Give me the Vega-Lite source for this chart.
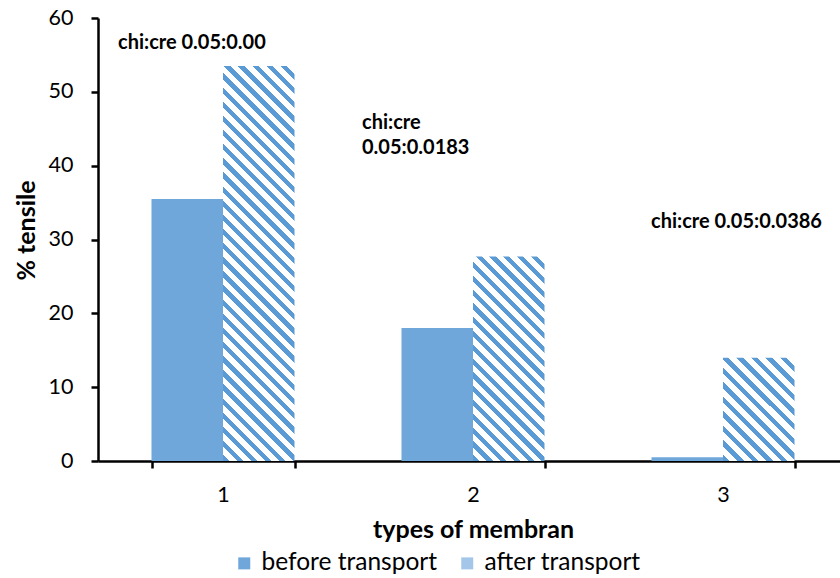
{
  "$schema": "https://vega.github.io/schema/vega-lite/v6.json",
  "autosize": {"type": "none"},
  "padding": {"left": 98, "top": 18, "right": 0, "bottom": 117},
  "width": 742,
  "height": 443,
  "background": "#ffffff",
  "datasets": {
    "bars": [
      {"cat": "1", "series": "before transport", "value": 35.5},
      {"cat": "1", "series": "after transport", "value": 53.5},
      {"cat": "2", "series": "before transport", "value": 18},
      {"cat": "2", "series": "after transport", "value": 27.7},
      {"cat": "3", "series": "before transport", "value": 0.5},
      {"cat": "3", "series": "after transport", "value": 14}
    ],
    "notes": [
      {"cat": "1", "value": 56.66, "label": "chi:cre 0.05:0.00"},
      {"cat": "2", "value": 45.8, "label": "chi:cre\n0.05:0.0183"},
      {"cat": "3", "value": 32.4, "label": "chi:cre 0.05:0.0386"}
    ]
  },
  "encoding": {
    "x": {
      "field": "cat",
      "type": "nominal",
      "title": "types of membran",
      "scale": {"range": [0, 750], "paddingInner": 0.428, "paddingOuter": 0.214},
      "axis": {
        "labelAngle": 0,
        "tickBand": "extent",
        "tickSize": 7,
        "labelPadding": 16,
        "titlePadding": 12
      }
    },
    "y": {
      "field": "value",
      "type": "quantitative",
      "title": "% tensile",
      "scale": {"domain": [0, 60], "nice": false},
      "axis": {
        "values": [0, 10, 20, 30, 40, 50, 60],
        "tickSize": 7,
        "labelPadding": 18,
        "titlePadding": 9,
        "titleY": 212
      }
    }
  },
  "layer": [
    {
      "data": {"name": "bars"},
      "transform": [{"filter": "datum.series == 'before transport'"}],
      "mark": {"type": "bar"},
      "encoding": {
        "xOffset": {"field": "series", "type": "nominal", "scale": {"domain": ["before transport", "after transport"], "paddingInner": 0, "paddingOuter": 0}},
        "fill": {
          "field": "series",
          "type": "nominal",
          "scale": {
            "domain": ["before transport", "after transport"],
            "range": ["#6fa7da", "#a4c7e9"]
          },
          "legend": {
            "title": null,
            "orient": "none",
            "legendX": 134,
            "legendY": 533,
            "direction": "horizontal",
            "symbolType": "square",
            "symbolSize": 144,
            "symbolStrokeWidth": 0,
            "labelFont": "Lato",
            "labelFontSize": 24.5,
            "labelColor": "#000000",
            "labelLimit": 0,
            "columnPadding": 17,
            "labelOffset": 5
          }
        }
      }
    },
    {
      "data": {"name": "bars"},
      "transform": [{"filter": "datum.series == 'after transport' && datum.cat == '1'"}],
      "mark": {
        "type": "bar",
        "fill": {"gradient": "linear", "x1": 0, "y1": 1, "x2": 0.207, "y2": -0.1435, "stops": [
          {"offset": 0, "color": "#5b9bd5"}, {"offset": 0.0136, "color": "#5b9bd5"}, {"offset": 0.0136, "color": "#ffffff"}, {"offset": 0.0303, "color": "#ffffff"},
          {"offset": 0.0303, "color": "#5b9bd5"}, {"offset": 0.0439, "color": "#5b9bd5"}, {"offset": 0.0439, "color": "#ffffff"}, {"offset": 0.0606, "color": "#ffffff"},
          {"offset": 0.0606, "color": "#5b9bd5"}, {"offset": 0.0742, "color": "#5b9bd5"}, {"offset": 0.0742, "color": "#ffffff"}, {"offset": 0.0909, "color": "#ffffff"},
          {"offset": 0.0909, "color": "#5b9bd5"}, {"offset": 0.1045, "color": "#5b9bd5"}, {"offset": 0.1045, "color": "#ffffff"}, {"offset": 0.1212, "color": "#ffffff"},
          {"offset": 0.1212, "color": "#5b9bd5"}, {"offset": 0.1348, "color": "#5b9bd5"}, {"offset": 0.1348, "color": "#ffffff"}, {"offset": 0.1515, "color": "#ffffff"},
          {"offset": 0.1515, "color": "#5b9bd5"}, {"offset": 0.1652, "color": "#5b9bd5"}, {"offset": 0.1652, "color": "#ffffff"}, {"offset": 0.1818, "color": "#ffffff"},
          {"offset": 0.1818, "color": "#5b9bd5"}, {"offset": 0.1955, "color": "#5b9bd5"}, {"offset": 0.1955, "color": "#ffffff"}, {"offset": 0.2121, "color": "#ffffff"},
          {"offset": 0.2121, "color": "#5b9bd5"}, {"offset": 0.2258, "color": "#5b9bd5"}, {"offset": 0.2258, "color": "#ffffff"}, {"offset": 0.2424, "color": "#ffffff"},
          {"offset": 0.2424, "color": "#5b9bd5"}, {"offset": 0.2561, "color": "#5b9bd5"}, {"offset": 0.2561, "color": "#ffffff"}, {"offset": 0.2727, "color": "#ffffff"},
          {"offset": 0.2727, "color": "#5b9bd5"}, {"offset": 0.2864, "color": "#5b9bd5"}, {"offset": 0.2864, "color": "#ffffff"}, {"offset": 0.303, "color": "#ffffff"},
          {"offset": 0.303, "color": "#5b9bd5"}, {"offset": 0.3167, "color": "#5b9bd5"}, {"offset": 0.3167, "color": "#ffffff"}, {"offset": 0.3333, "color": "#ffffff"},
          {"offset": 0.3333, "color": "#5b9bd5"}, {"offset": 0.347, "color": "#5b9bd5"}, {"offset": 0.347, "color": "#ffffff"}, {"offset": 0.3636, "color": "#ffffff"},
          {"offset": 0.3636, "color": "#5b9bd5"}, {"offset": 0.3773, "color": "#5b9bd5"}, {"offset": 0.3773, "color": "#ffffff"}, {"offset": 0.3939, "color": "#ffffff"},
          {"offset": 0.3939, "color": "#5b9bd5"}, {"offset": 0.4076, "color": "#5b9bd5"}, {"offset": 0.4076, "color": "#ffffff"}, {"offset": 0.4242, "color": "#ffffff"},
          {"offset": 0.4242, "color": "#5b9bd5"}, {"offset": 0.4379, "color": "#5b9bd5"}, {"offset": 0.4379, "color": "#ffffff"}, {"offset": 0.4545, "color": "#ffffff"},
          {"offset": 0.4545, "color": "#5b9bd5"}, {"offset": 0.4682, "color": "#5b9bd5"}, {"offset": 0.4682, "color": "#ffffff"}, {"offset": 0.4848, "color": "#ffffff"},
          {"offset": 0.4848, "color": "#5b9bd5"}, {"offset": 0.4985, "color": "#5b9bd5"}, {"offset": 0.4985, "color": "#ffffff"}, {"offset": 0.5152, "color": "#ffffff"},
          {"offset": 0.5152, "color": "#5b9bd5"}, {"offset": 0.5288, "color": "#5b9bd5"}, {"offset": 0.5288, "color": "#ffffff"}, {"offset": 0.5455, "color": "#ffffff"},
          {"offset": 0.5455, "color": "#5b9bd5"}, {"offset": 0.5591, "color": "#5b9bd5"}, {"offset": 0.5591, "color": "#ffffff"}, {"offset": 0.5758, "color": "#ffffff"},
          {"offset": 0.5758, "color": "#5b9bd5"}, {"offset": 0.5894, "color": "#5b9bd5"}, {"offset": 0.5894, "color": "#ffffff"}, {"offset": 0.6061, "color": "#ffffff"},
          {"offset": 0.6061, "color": "#5b9bd5"}, {"offset": 0.6197, "color": "#5b9bd5"}, {"offset": 0.6197, "color": "#ffffff"}, {"offset": 0.6364, "color": "#ffffff"},
          {"offset": 0.6364, "color": "#5b9bd5"}, {"offset": 0.65, "color": "#5b9bd5"}, {"offset": 0.65, "color": "#ffffff"}, {"offset": 0.6667, "color": "#ffffff"},
          {"offset": 0.6667, "color": "#5b9bd5"}, {"offset": 0.6803, "color": "#5b9bd5"}, {"offset": 0.6803, "color": "#ffffff"}, {"offset": 0.697, "color": "#ffffff"},
          {"offset": 0.697, "color": "#5b9bd5"}, {"offset": 0.7106, "color": "#5b9bd5"}, {"offset": 0.7106, "color": "#ffffff"}, {"offset": 0.7273, "color": "#ffffff"},
          {"offset": 0.7273, "color": "#5b9bd5"}, {"offset": 0.7409, "color": "#5b9bd5"}, {"offset": 0.7409, "color": "#ffffff"}, {"offset": 0.7576, "color": "#ffffff"},
          {"offset": 0.7576, "color": "#5b9bd5"}, {"offset": 0.7712, "color": "#5b9bd5"}, {"offset": 0.7712, "color": "#ffffff"}, {"offset": 0.7879, "color": "#ffffff"},
          {"offset": 0.7879, "color": "#5b9bd5"}, {"offset": 0.8015, "color": "#5b9bd5"}, {"offset": 0.8015, "color": "#ffffff"}, {"offset": 0.8182, "color": "#ffffff"},
          {"offset": 0.8182, "color": "#5b9bd5"}, {"offset": 0.8318, "color": "#5b9bd5"}, {"offset": 0.8318, "color": "#ffffff"}, {"offset": 0.8485, "color": "#ffffff"},
          {"offset": 0.8485, "color": "#5b9bd5"}, {"offset": 0.8621, "color": "#5b9bd5"}, {"offset": 0.8621, "color": "#ffffff"}, {"offset": 0.8788, "color": "#ffffff"},
          {"offset": 0.8788, "color": "#5b9bd5"}, {"offset": 0.8924, "color": "#5b9bd5"}, {"offset": 0.8924, "color": "#ffffff"}, {"offset": 0.9091, "color": "#ffffff"},
          {"offset": 0.9091, "color": "#5b9bd5"}, {"offset": 0.9227, "color": "#5b9bd5"}, {"offset": 0.9227, "color": "#ffffff"}, {"offset": 0.9394, "color": "#ffffff"},
          {"offset": 0.9394, "color": "#5b9bd5"}, {"offset": 0.953, "color": "#5b9bd5"}, {"offset": 0.953, "color": "#ffffff"}, {"offset": 0.9697, "color": "#ffffff"},
          {"offset": 0.9697, "color": "#5b9bd5"}, {"offset": 0.9833, "color": "#5b9bd5"}, {"offset": 0.9833, "color": "#ffffff"}, {"offset": 1, "color": "#ffffff"}
        ]}
      },
      "encoding": {
        "xOffset": {"field": "series", "type": "nominal", "scale": {"domain": ["before transport", "after transport"], "paddingInner": 0, "paddingOuter": 0}}
      }
    },
    {
      "data": {"name": "bars"},
      "transform": [{"filter": "datum.series == 'after transport' && datum.cat == '2'"}],
      "mark": {
        "type": "bar",
        "fill": {"gradient": "linear", "x1": 0, "y1": 1, "x2": 0.4205, "y2": -0.2026, "stops": [
          {"offset": 0, "color": "#5b9bd5"}, {"offset": 0.0225, "color": "#5b9bd5"}, {"offset": 0.0225, "color": "#ffffff"}, {"offset": 0.05, "color": "#ffffff"},
          {"offset": 0.05, "color": "#5b9bd5"}, {"offset": 0.0725, "color": "#5b9bd5"}, {"offset": 0.0725, "color": "#ffffff"}, {"offset": 0.1, "color": "#ffffff"},
          {"offset": 0.1, "color": "#5b9bd5"}, {"offset": 0.1225, "color": "#5b9bd5"}, {"offset": 0.1225, "color": "#ffffff"}, {"offset": 0.15, "color": "#ffffff"},
          {"offset": 0.15, "color": "#5b9bd5"}, {"offset": 0.1725, "color": "#5b9bd5"}, {"offset": 0.1725, "color": "#ffffff"}, {"offset": 0.2, "color": "#ffffff"},
          {"offset": 0.2, "color": "#5b9bd5"}, {"offset": 0.2225, "color": "#5b9bd5"}, {"offset": 0.2225, "color": "#ffffff"}, {"offset": 0.25, "color": "#ffffff"},
          {"offset": 0.25, "color": "#5b9bd5"}, {"offset": 0.2725, "color": "#5b9bd5"}, {"offset": 0.2725, "color": "#ffffff"}, {"offset": 0.3, "color": "#ffffff"},
          {"offset": 0.3, "color": "#5b9bd5"}, {"offset": 0.3225, "color": "#5b9bd5"}, {"offset": 0.3225, "color": "#ffffff"}, {"offset": 0.35, "color": "#ffffff"},
          {"offset": 0.35, "color": "#5b9bd5"}, {"offset": 0.3725, "color": "#5b9bd5"}, {"offset": 0.3725, "color": "#ffffff"}, {"offset": 0.4, "color": "#ffffff"},
          {"offset": 0.4, "color": "#5b9bd5"}, {"offset": 0.4225, "color": "#5b9bd5"}, {"offset": 0.4225, "color": "#ffffff"}, {"offset": 0.45, "color": "#ffffff"},
          {"offset": 0.45, "color": "#5b9bd5"}, {"offset": 0.4725, "color": "#5b9bd5"}, {"offset": 0.4725, "color": "#ffffff"}, {"offset": 0.5, "color": "#ffffff"},
          {"offset": 0.5, "color": "#5b9bd5"}, {"offset": 0.5225, "color": "#5b9bd5"}, {"offset": 0.5225, "color": "#ffffff"}, {"offset": 0.55, "color": "#ffffff"},
          {"offset": 0.55, "color": "#5b9bd5"}, {"offset": 0.5725, "color": "#5b9bd5"}, {"offset": 0.5725, "color": "#ffffff"}, {"offset": 0.6, "color": "#ffffff"},
          {"offset": 0.6, "color": "#5b9bd5"}, {"offset": 0.6225, "color": "#5b9bd5"}, {"offset": 0.6225, "color": "#ffffff"}, {"offset": 0.65, "color": "#ffffff"},
          {"offset": 0.65, "color": "#5b9bd5"}, {"offset": 0.6725, "color": "#5b9bd5"}, {"offset": 0.6725, "color": "#ffffff"}, {"offset": 0.7, "color": "#ffffff"},
          {"offset": 0.7, "color": "#5b9bd5"}, {"offset": 0.7225, "color": "#5b9bd5"}, {"offset": 0.7225, "color": "#ffffff"}, {"offset": 0.75, "color": "#ffffff"},
          {"offset": 0.75, "color": "#5b9bd5"}, {"offset": 0.7725, "color": "#5b9bd5"}, {"offset": 0.7725, "color": "#ffffff"}, {"offset": 0.8, "color": "#ffffff"},
          {"offset": 0.8, "color": "#5b9bd5"}, {"offset": 0.8225, "color": "#5b9bd5"}, {"offset": 0.8225, "color": "#ffffff"}, {"offset": 0.85, "color": "#ffffff"},
          {"offset": 0.85, "color": "#5b9bd5"}, {"offset": 0.8725, "color": "#5b9bd5"}, {"offset": 0.8725, "color": "#ffffff"}, {"offset": 0.9, "color": "#ffffff"},
          {"offset": 0.9, "color": "#5b9bd5"}, {"offset": 0.9225, "color": "#5b9bd5"}, {"offset": 0.9225, "color": "#ffffff"}, {"offset": 0.95, "color": "#ffffff"},
          {"offset": 0.95, "color": "#5b9bd5"}, {"offset": 0.9725, "color": "#5b9bd5"}, {"offset": 0.9725, "color": "#ffffff"}, {"offset": 1, "color": "#ffffff"}
        ]}
      },
      "encoding": {
        "xOffset": {"field": "series", "type": "nominal", "scale": {"domain": ["before transport", "after transport"], "paddingInner": 0, "paddingOuter": 0}}
      }
    },
    {
      "data": {"name": "bars"},
      "transform": [{"filter": "datum.series == 'after transport' && datum.cat == '3'"}],
      "mark": {
        "type": "bar",
        "fill": {"gradient": "linear", "x1": 0, "y1": 1, "x2": 0.7913, "y2": -0.1443, "stops": [
          {"offset": 0, "color": "#5b9bd5"}, {"offset": 0.0375, "color": "#5b9bd5"}, {"offset": 0.0375, "color": "#ffffff"}, {"offset": 0.0833, "color": "#ffffff"},
          {"offset": 0.0833, "color": "#5b9bd5"}, {"offset": 0.1208, "color": "#5b9bd5"}, {"offset": 0.1208, "color": "#ffffff"}, {"offset": 0.1667, "color": "#ffffff"},
          {"offset": 0.1667, "color": "#5b9bd5"}, {"offset": 0.2042, "color": "#5b9bd5"}, {"offset": 0.2042, "color": "#ffffff"}, {"offset": 0.25, "color": "#ffffff"},
          {"offset": 0.25, "color": "#5b9bd5"}, {"offset": 0.2875, "color": "#5b9bd5"}, {"offset": 0.2875, "color": "#ffffff"}, {"offset": 0.3333, "color": "#ffffff"},
          {"offset": 0.3333, "color": "#5b9bd5"}, {"offset": 0.3708, "color": "#5b9bd5"}, {"offset": 0.3708, "color": "#ffffff"}, {"offset": 0.4167, "color": "#ffffff"},
          {"offset": 0.4167, "color": "#5b9bd5"}, {"offset": 0.4542, "color": "#5b9bd5"}, {"offset": 0.4542, "color": "#ffffff"}, {"offset": 0.5, "color": "#ffffff"},
          {"offset": 0.5, "color": "#5b9bd5"}, {"offset": 0.5375, "color": "#5b9bd5"}, {"offset": 0.5375, "color": "#ffffff"}, {"offset": 0.5833, "color": "#ffffff"},
          {"offset": 0.5833, "color": "#5b9bd5"}, {"offset": 0.6208, "color": "#5b9bd5"}, {"offset": 0.6208, "color": "#ffffff"}, {"offset": 0.6667, "color": "#ffffff"},
          {"offset": 0.6667, "color": "#5b9bd5"}, {"offset": 0.7042, "color": "#5b9bd5"}, {"offset": 0.7042, "color": "#ffffff"}, {"offset": 0.75, "color": "#ffffff"},
          {"offset": 0.75, "color": "#5b9bd5"}, {"offset": 0.7875, "color": "#5b9bd5"}, {"offset": 0.7875, "color": "#ffffff"}, {"offset": 0.8333, "color": "#ffffff"},
          {"offset": 0.8333, "color": "#5b9bd5"}, {"offset": 0.8708, "color": "#5b9bd5"}, {"offset": 0.8708, "color": "#ffffff"}, {"offset": 0.9167, "color": "#ffffff"},
          {"offset": 0.9167, "color": "#5b9bd5"}, {"offset": 0.9542, "color": "#5b9bd5"}, {"offset": 0.9542, "color": "#ffffff"}, {"offset": 1, "color": "#ffffff"}
        ]}
      },
      "encoding": {
        "xOffset": {"field": "series", "type": "nominal", "scale": {"domain": ["before transport", "after transport"], "paddingInner": 0, "paddingOuter": 0}}
      }
    },
    {
      "data": {"name": "notes"},
      "transform": [{"filter": "datum.cat == '1'"}],
      "mark": {"type": "text", "align": "left", "baseline": "middle", "dx": -105, "font": "Lato", "fontSize": 20, "fontWeight": "bold", "color": "#000000"},
      "encoding": {"text": {"field": "label"}}
    },
    {
      "data": {"name": "notes"},
      "transform": [{"filter": "datum.cat == '2'"}],
      "mark": {"type": "text", "align": "left", "baseline": "middle", "dx": -111, "lineBreak": "\n", "lineHeight": 25, "font": "Lato", "fontSize": 20, "fontWeight": "bold", "color": "#000000"},
      "encoding": {"text": {"field": "label"}}
    },
    {
      "data": {"name": "notes"},
      "transform": [{"filter": "datum.cat == '3'"}],
      "mark": {"type": "text", "align": "left", "baseline": "middle", "dx": -72, "font": "Lato", "fontSize": 20, "fontWeight": "bold", "color": "#000000"},
      "encoding": {"text": {"field": "label"}}
    }
  ],
  "config": {
    "view": {"stroke": null},
    "font": "Lato",
    "axis": {
      "grid": false,
      "domainColor": "#000000",
      "domainWidth": 2.5,
      "tickColor": "#000000",
      "tickWidth": 2.5,
      "labelFont": "Lato",
      "labelFontSize": 21.5,
      "labelColor": "#000000",
      "titleFont": "Lato",
      "titleFontSize": 25,
      "titleFontWeight": "bold",
      "titleColor": "#000000"
    }
  }
}
